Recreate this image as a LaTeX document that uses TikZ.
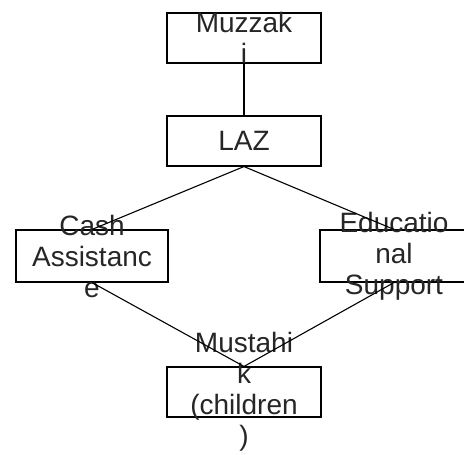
\documentclass[tikz,border=0pt]{standalone}
\usepackage{fontspec}
\setmainfont{Liberation Sans}
\usetikzlibrary{shapes,arrows.meta}
\tikzstyle{block} = [draw, fill=none, rectangle, line width=1.1pt, inner sep=0pt, minimum height=50pt, minimum width=154pt]
\tikzstyle{txt} = [align=center, inner sep=0pt, text=black!85]

\begin{document}
\begin{tikzpicture}[x=1pt, y=1pt, node distance=103pt]
    \tikzset{font={\fontsize{28pt}{31pt}\selectfont}}
    \useasboundingbox (0,0) rectangle (464,455);
    \node [block, label={[txt]center:Muzzak\\ i}] at (244,417) (muzzaki) {};
    \node [block, below of=muzzaki, label={[txt]center:LAZ}] (laz) {};
    \node [block, minimum height=52pt, minimum width=152pt, label={[txt]center:Cash\\ Assistanc\\ e}] at (92,199) (cash) {};
    \node [block, minimum height=52pt, minimum width=148pt, label={[txt]center:Educatio\\ nal\\ Support}] at (394,199) (edu) {};
    \node [block, below of=laz, node distance=251pt, label={[txt]center:Mustahi\\ k\\ (children\\ )}] (mustahik) {};
    \draw [line width=1.1pt] (muzzaki) -- (laz);
    \draw [line width=1.1pt] (laz.south) -- (cash.north);
    \draw [line width=1.1pt] (laz.south) -- (edu.north);
    \draw [line width=1.1pt] (cash.south) -- (mustahik.north);
    \draw [line width=1.1pt] (edu.south) -- (mustahik.north);
\end{tikzpicture}
\end{document}
